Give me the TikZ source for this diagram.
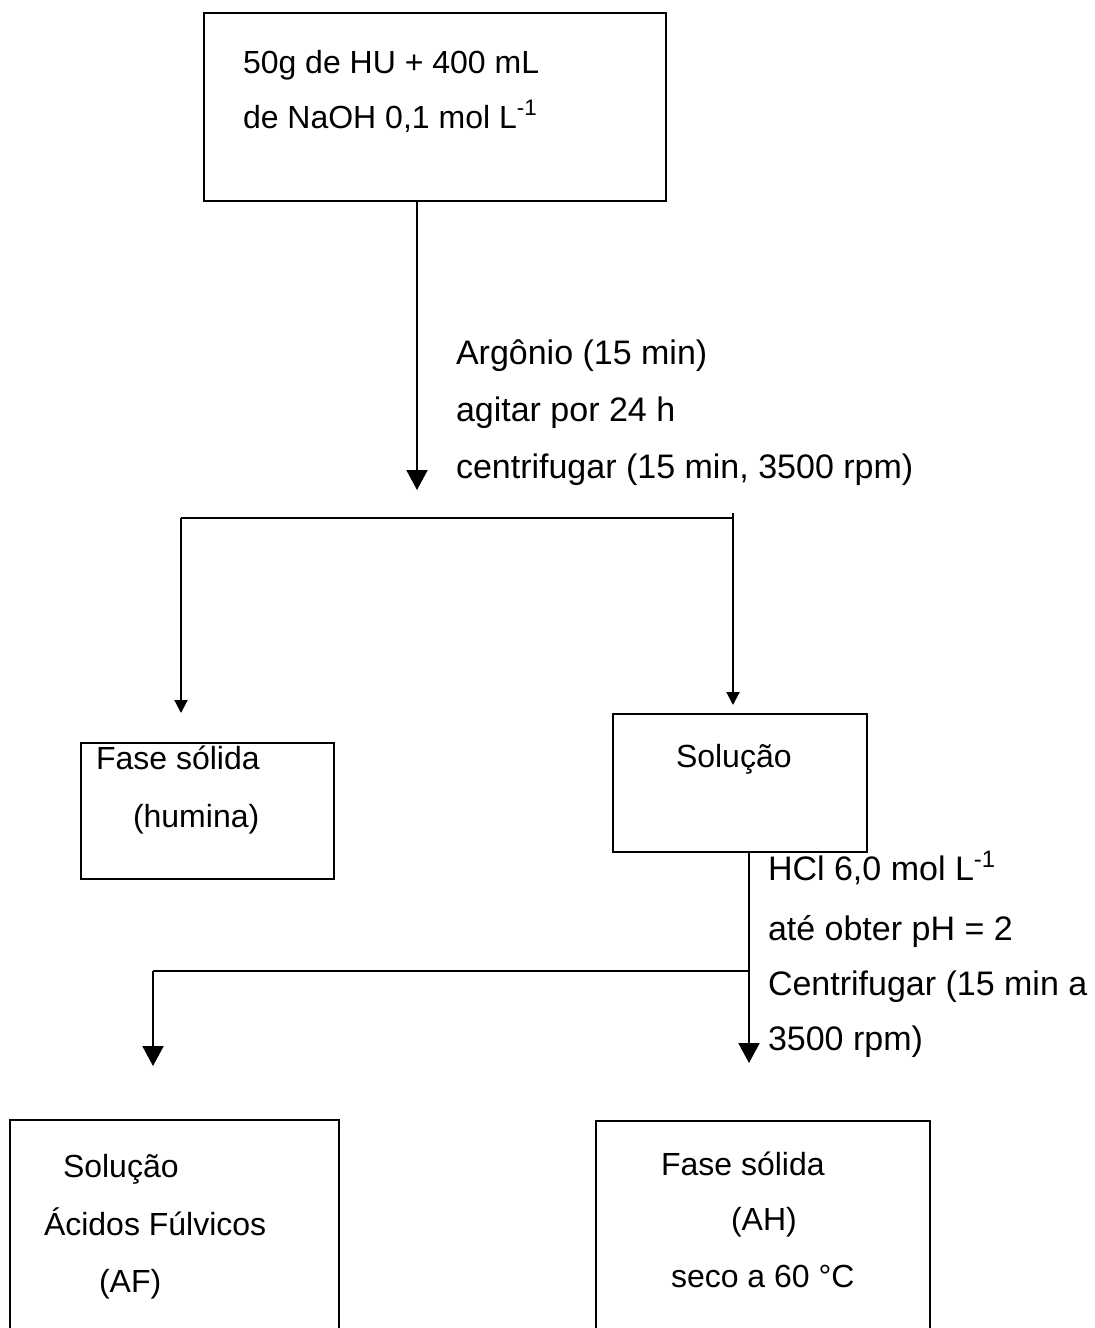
\documentclass[tikz,border=0pt]{standalone}
\usepackage{fontspec}
\setmainfont{Liberation Sans}
\usetikzlibrary{arrows.meta,positioning}

\begin{document}
\begin{tikzpicture}[x=0.5pt,y=-0.5pt,
    every path/.style={line width=1pt},
    box/.style={draw,line width=1pt,inner sep=0pt,anchor=north west},
    openbox/.style={inner sep=0pt,anchor=north west},
    txt/.style={font=\fontsize{16pt}{19pt}\selectfont,anchor=base west,inner sep=0pt},
    lbl/.style={font=\fontsize{17pt}{20pt}\selectfont,anchor=base west,inner sep=0pt},
    bigarrow/.style={-{Triangle[length=10pt,width=10.5pt]}},
    smallarrow/.style={-{Triangle[length=6.5pt,width=6.5pt]}}]
  \useasboundingbox (0,0) rectangle (1094,1328);
  % boxes
  \node[box,minimum width=231pt,minimum height=94pt]   (hu)  at (203,12)  {};
  \node[box,minimum width=126.5pt,minimum height=68pt] (hum) at (80,742)  {};
  \node[box,minimum width=127pt,minimum height=69pt]   (sol) at (612,713) {};
  \node[openbox,minimum width=163.5pt,minimum height=107.5pt] (af) at (10,1120)  {};
  \node[openbox,minimum width=166pt,minimum height=107pt]     (ah) at (596,1121) {};
  \draw (af.south west) -- (af.north west) -- (af.north east) -- (af.south east);
  \draw (ah.south west) -- (ah.north west) -- (ah.north east) -- (ah.south east);
  % texts
  \node[txt] (hu1) at (242,73)  {50g de HU + 400 mL};
  \node[txt] (hu2) at (242,128) {de NaOH 0,1 mol L\textsuperscript{-1}};
  \node[lbl] (ar1) at (455,364) {Argônio (15 min)};
  \node[lbl] (ar2) at (455,421) {agitar por 24 h};
  \node[lbl] (ar3) at (455,478) {centrifugar (15 min, 3500 rpm)};
  \node[txt] (hm1) at (95,769)  {Fase sólida};
  \node[txt] (hm2) at (132,827) {(humina)};
  \node[txt] (sl1) at (675,767) {Solução};
  \node[lbl] (hc1) at (767,880)  {HCl 6,0 mol L\textsuperscript{-1}};
  \node[lbl] (hc2) at (767,940)  {até obter pH = 2};
  \node[lbl] (hc3) at (767,995)  {Centrifugar (15 min a};
  \node[lbl] (hc4) at (767,1050) {3500 rpm)};
  \node[txt] (af1) at (62,1177) {Solução};
  \node[txt] (af2) at (43,1235) {Ácidos Fúlvicos};
  \node[txt] (af3) at (98,1292) {(AF)};
  \node[txt] (ah1) at (660,1175) {Fase sólida};
  \node[txt] (ah2) at (730,1230) {(AH)};
  \node[txt] (ah3) at (670,1287) {seco a 60 °C};
  % connectors
  \coordinate (t1) at (417,490);
  \draw[bigarrow] (hu.south -| t1) -- (t1);
  \coordinate (fL) at (181,518);
  \coordinate (fR) at (733,518);
  \draw (fL) -- (fR);
  \draw[smallarrow,shorten >=14.5pt] (fL) -- (fL |- hum.north);
  \draw[smallarrow,shorten >=4pt] ([yshift=2.5pt]fR) -- (fR |- sol.north);
  \coordinate (t2) at (749,1063);
  \draw[bigarrow] (sol.south -| t2) -- (t2);
  \coordinate (gL) at (153,971);
  \draw (t2 |- gL) -- (gL);
  \coordinate (t3) at (153,1066);
  \draw[bigarrow] (gL) -- (t3);
\end{tikzpicture}
\end{document}
